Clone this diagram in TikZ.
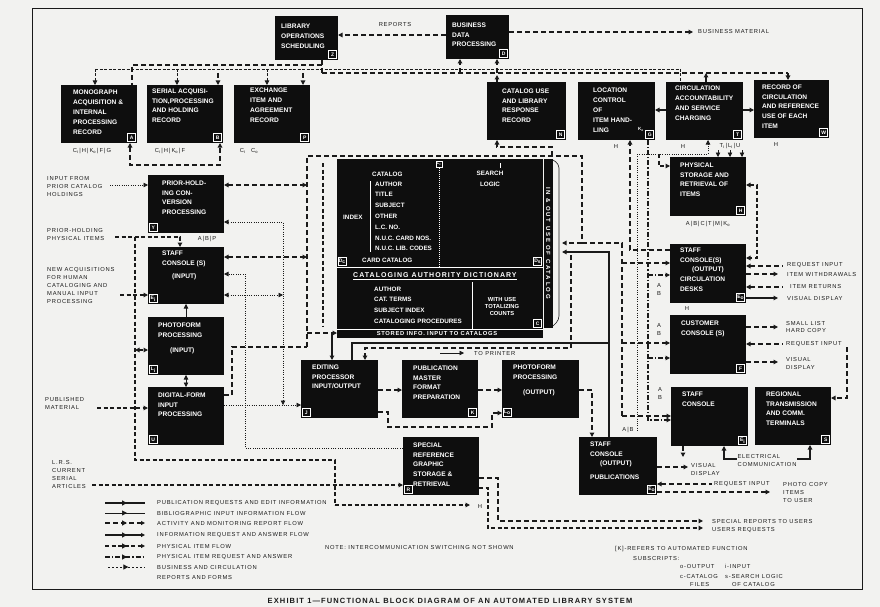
\documentclass[tikz,border=0pt]{standalone}
\usepackage{fontspec}
\setmainfont{Liberation Sans}
\newfontfamily\otfam[LetterSpace=13]{Liberation Sans}
\newfontfamily\capfam[LetterSpace=15]{Liberation Sans}
\newfontfamily\vfam[LetterSpace=30]{Liberation Sans}
\newfontfamily\cadfam[LetterSpace=15]{Liberation Sans}
\newfontfamily\sifam[LetterSpace=12]{Liberation Sans}
\usetikzlibrary{arrows.meta,calc,decorations.markings}
\definecolor{bg}{HTML}{F2F2F0}
\definecolor{ink}{HTML}{1A1A1A}
\definecolor{boxc}{HTML}{0E0E0E}
\newcommand\boxfont{\fontsize{6.6}{9.8}\selectfont\bfseries}
\newcommand\catfont{\fontsize{6.3}{10.8}\selectfont\bfseries}
\newcommand\outfont{\otfam\fontsize{5.8}{8}\selectfont}
\newcommand\labfont{\fontsize{5}{5}\selectfont\bfseries}
\newcommand\mkbox[8]{%
  \node[blk,minimum width={(#4-#2)*1pt},minimum height={(#5-#3)*1pt}] (#1) at (#2,#3) {};
  \node[btext] (#1t) at (#6,#7) {#8};}
\newcommand\lse[2]{\node[lab,anchor=south east] (#1l) at ($(#1.south east)+(-1,-1)$) {#2};}
\newcommand\lsw[2]{\node[lab,anchor=south west] (#1l) at ($(#1.south west)+(1,-1)$) {#2};}
\begin{document}
\begin{tikzpicture}[x=1pt,y=-1pt,
  >={Triangle[length=4.5pt,width=4.5pt]},
  blk/.style={rectangle,fill=boxc,inner sep=0pt,outer sep=0pt,anchor=north west},
  btext/.style={text=white,font=\boxfont,align=left,anchor=north west,inner sep=0pt},
  ctext/.style={text=white,font=\catfont,align=left,inner sep=0pt},
  lab/.style={rectangle,draw=white,fill=boxc,text=white,font=\labfont,inner sep=0.4pt,minimum width=8pt,minimum height=8pt,line width=0.6pt},
  otext/.style={text=ink,font=\outfont,align=left,inner sep=0pt},
  rep/.style={draw=ink,line width=1.5pt,dash pattern=on 5pt off 3pt},
  phys/.style={draw=ink,line width=1.2pt,dash pattern=on 4pt off 2.5pt},
  bib/.style={draw=ink,line width=0.8pt,dash pattern=on 1pt off 1.3pt},
  preq/.style={draw=ink,line width=1.2pt,dash pattern=on 5pt off 2pt on 1.2pt off 2pt},
  pub/.style={draw=ink,line width=1.5pt},
  bus/.style={draw=ink,line width=0.8pt,dash pattern=on 3pt off 1.5pt},
  thinl/.style={draw=ink,line width=0.6pt},
  midarrow/.style={postaction={decorate,decoration={markings,mark=at position 0.55 with {\arrow{Triangle[length=5pt,width=5pt]}}}}},
  openend/.style={-{Triangle[open,length=4pt,width=4pt]}},
]
\useasboundingbox (0,0) rectangle (880,607);
\fill[bg] (0,0) rectangle (880,607);
\draw[ink,line width=0.9pt] (32,8) rectangle (862,589);

% ---------------- boxes
\mkbox{LOS}{275}{16}{338}{60}{281}{24}{LIBRARY\\OPERATIONS\\SCHEDULING}\lse{LOS}{Z}
\mkbox{BDP}{446}{15}{509}{59}{452}{22.5}{BUSINESS\\DATA\\PROCESSING}\lse{BDP}{D}
\mkbox{A}{61}{85}{137}{143}{73}{90}{MONOGRAPH\\ACQUISITION \&\\INTERNAL\\PROCESSING\\RECORD}\lse{A}{A}
\mkbox{B}{147}{85}{223}{143}{152}{88.5}{SERIAL ACQUISI-\\TION,PROCESSING\\AND HOLDING\\RECORD}\lse{B}{B}
\mkbox{P}{234}{85}{310}{143}{250}{88}{EXCHANGE\\ITEM AND\\AGREEMENT\\RECORD}\lse{P}{P}
\mkbox{N}{487}{82}{566}{140}{502}{88.5}{CATALOG USE\\AND LIBRARY\\RESPONSE\\RECORD}\lse{N}{N}
\mkbox{G}{578}{82}{655}{140}{593}{88}{LOCATION\\CONTROL\\OF\\ITEM HAND-\\LING}\lse{G}{G}
\mkbox{T}{666}{82}{743}{140}{675}{86}{CIRCULATION\\ACCOUNTABILITY\\AND SERVICE\\CHARGING}\lse{T}{T}
\mkbox{W}{754}{80}{829}{138}{762}{84.5}{RECORD OF\\CIRCULATION\\AND REFERENCE\\USE OF EACH\\ITEM}\lse{W}{W}
\mkbox{Y}{148}{175}{224}{233}{162}{180.5}{PRIOR-HOLD-\\ING CON-\\VERSION\\PROCESSING}\lsw{Y}{Y}
\mkbox{Ei}{148}{247}{224}{304}{162}{250.5}{STAFF\\CONSOLE (S)\\[4pt]\hspace*{10pt}(INPUT)}\lsw{Ei}{E\textsubscript{i}}
\mkbox{Li}{148}{317}{224}{375}{158}{322.5}{PHOTOFORM\\PROCESSING\\[6pt]\hspace*{12pt}(INPUT)}\lsw{Li}{L\textsubscript{i}}
\mkbox{U}{148}{387}{224}{445}{158}{392.5}{DIGITAL-FORM\\INPUT\\PROCESSING}\lsw{U}{U}
\mkbox{J}{301}{360}{378}{418}{312}{364.5}{EDITING\\PROCESSOR\\INPUT/OUTPUT}\lsw{J}{J}
\mkbox{K}{402}{360}{478}{418}{413}{365.5}{PUBLICATION\\MASTER\\FORMAT\\PREPARATION}\lse{K}{K}
\mkbox{Lo}{502}{360}{579}{418}{513}{364.5}{PHOTOFORM\\PROCESSING\\[6pt]\hspace*{10pt}(OUTPUT)}\lsw{Lo}{L\textsubscript{o}}
\mkbox{R}{403}{437}{479}{495}{413}{442.5}{SPECIAL\\REFERENCE\\GRAPHIC\\STORAGE \&\\RETRIEVAL}\lsw{R}{R}
\mkbox{H}{670}{157}{746}{216}{680}{162.5}{PHYSICAL\\STORAGE AND\\RETRIEVAL OF\\ITEMS}\lse{H}{H}
\mkbox{Eo}{670}{244}{746}{303}{680}{247.5}{STAFF\\CONSOLE(S)\\\hspace*{12pt}(OUTPUT)\\CIRCULATION\\DESKS}\lse{Eo}{E\textsubscript{o}}
\mkbox{F}{670}{315}{746}{374}{681}{320.5}{CUSTOMER\\CONSOLE (S)}\lse{F}{F}
\mkbox{Es}{671}{387}{748}{446}{682}{391.5}{STAFF\\CONSOLE}\lse{Es}{E\textsubscript{i}}
\mkbox{S}{755}{387}{831}{445}{766}{391.5}{REGIONAL\\TRANSMISSION\\AND COMM.\\TERMINALS}\lse{S}{S}
\mkbox{Ep}{579}{437}{657}{495}{590}{441.5}{STAFF\\CONSOLE\\\hspace*{10pt}(OUTPUT)\\[4pt]PUBLICATIONS}\lse{Ep}{E\textsubscript{o}}
\node[text=white,font=\fontsize{4.5}{5}\selectfont\bfseries,inner sep=0pt] (Gko) at (641,129) {K\textsubscript{o}};

% ---------------- catalog block
\node[blk,minimum width=206pt,minimum height=179pt] (CAT) at (337,159) {};
\node[blk,minimum width=10pt,minimum height=169pt] (CST) at (543,159) {};
\draw[white,line width=0.8pt] (CAT.west |- 0,267) -- (CAT.east |- 0,267);
\draw[white,line width=0.8pt,dash pattern=on 1pt off 1pt] (439,168) -- (439,267);
\draw[white,line width=0.8pt] (472,282) -- (472,329);
\draw[white,line width=0.8pt] (CAT.west |- 0,329) -- (CAT.east |- 0,329);
\draw[bg,line width=0.5pt] (543.3,159) -- (543.3,328);
\node[ctext,anchor=west] (catl) at (372,174) {CATALOG};
\node[ctext,anchor=north west] (catitems) at (375,181.5) {AUTHOR\\TITLE\\SUBJECT\\OTHER\\L.C. NO.\\N.U.C. CARD NOS.\\N.U.C. LIB. CODES};
\node[ctext,anchor=west] (idx) at (343,217) {INDEX};
\draw[white,line width=0.6pt] (370,181) -- (370,252);
\node[ctext,anchor=west] (cc) at (362,260) {CARD CATALOG};
\node[ctext,align=center] (sl) at (490,179) {SEARCH\\LOGIC};
\draw[white,line width=0.7pt] (500,163) -- (500,168);
\node[lab,minimum width=6pt,minimum height=6pt,font=\fontsize{4}{4}\selectfont\bfseries] (Ccl) at (439,164) {C\textsubscript{c}};
\node[lab,anchor=south west] (Dcl) at (338,266) {D\textsubscript{c}};
\node[lab,anchor=south east] (Dsl) at (542,266) {D\textsubscript{s}};
\node[lab,anchor=south east] (Cl) at (542,328) {C};
\node[ctext,anchor=west,font=\cadfam\fontsize{7}{8}\selectfont\bfseries] (cad) at (353,276) {\underline{CATALOGING AUTHORITY DICTIONARY}};
\node[ctext,anchor=north west] (caditems) at (374,286.5) {AUTHOR\\CAT. TERMS\\SUBJECT INDEX\\CATALOGING PROCEDURES};
\node[ctext,align=center,font=\fontsize{5.8}{7}\selectfont\bfseries] (wuc) at (502,307) {WITH USE\\TOTALIZING\\COUNTS};
\node[ctext,font=\sifam\fontsize{5.8}{6}\selectfont\bfseries] (sii) at (437,333.5) {STORED INFO. INPUT TO CATALOGS};
\node[ctext,rotate=-90,font=\vfam\fontsize{6}{6}\selectfont\bfseries] (iou) at (548.3,243) {IN \& OUT USE OF CATALOG};
\draw[ink,line width=0.6pt,rounded corners=4pt] (553,160) -- (559,164) -- (559,320) -- (553,326);

% ---------------- top connectors
\draw[rep,->] (BDP.west |- 0,35) -- (LOS.east |- 0,35);
\node[otext] (rept) at (395,25) {REPORTS};
\draw[rep,->] (BDP.east |- 0,32) -- (693,32);
\node[otext,anchor=west] (bmt) at (698,32) {BUSINESS MATERIAL};
\draw[rep] (LOS.south -| 322,0) -- (322,73);
\draw[rep] (322,65) -- (132,65) -- (132,0 |- A.north);
\draw[bus] (95,69) -- (680,69) -- (680,0 |- T.north);
\draw[rep] (322,73) -- (788,73);
\draw[rep,->] (788,73) -- (788,0 |- W.north);
\draw[bus,->] (95,69) -- (95,0 |- A.north);
\draw[bus,->] (177,69) -- (177,0 |- B.north);
\draw[rep,->] (218,73) -- (218,0 |- B.north);
\draw[bus,->] (267,69) -- (267,0 |- P.north);
\draw[rep,->] (303,73) -- (303,0 |- P.north);
\draw[rep,->] (460,73) -- (460,0 |- BDP.south);
\draw[rep,->] (497,73) -- (497,0 |- BDP.south);
\draw[rep,->] (497,0 |- N.north) -- (497,75);
\draw[rep,->] (706,0 |- T.north) -- (706,73);
\draw[rep,<->] (130,0 |- A.south) -- (130,165) -- (220,165) -- (220,0 |- B.south);
\node[otext] (subA) at (92,151) {C\textsubscript{i}\,|\,H\,|\,K\textsubscript{o}\,|\,F\,|\,G};
\node[otext] (subB) at (170,151) {C\textsubscript{i}\,|\,H\,|\,K\textsubscript{o}\,|\,F};
\node[otext] (subP) at (249,151) {C\textsubscript{i}\quad C\textsubscript{o}};

% ---------------- left side
\node[otext,anchor=west] (ipc) at (47,187) {INPUT FROM\\PRIOR CATALOG\\HOLDINGS};
\draw[bib,->] (110,185) -- (Y.west |- 0,185);
\draw[rep,<->] (Y.east |- 0,185) -- (307,185);
\draw[bib,<->] (Y.east |- 0,222) -- (283,222) -- (283,405);
\draw[bib,->] (U.east |- 0,405) -- (J.west |- 0,405);
\node[otext,anchor=west] (php) at (47,235) {PRIOR-HOLDING\\PHYSICAL ITEMS};
\draw[phys,->] (115,237) -- (180,237) -- (180,0 |- Ei.north);
\node[otext] (subY) at (207,239) {A\,|\,B\,|\,P};
\draw[phys] (135,237) -- (135,460) -- (335,460) -- (335,505);
\draw[phys,->] (335,505) -- (470,505);
\node[otext] (Hx) at (480,506) {H};
\node[otext,anchor=west] (nac) at (47,286) {NEW ACQUISITIONS\\FOR HUMAN\\CATALOGING AND\\MANUAL INPUT\\PROCESSING};
\draw[phys,->] (120,295) -- (Ei.west |- 0,295);
\draw[phys,<->] (135,350) -- (Li.west |- 0,350);
\node[otext,anchor=west] (pm) at (45,403) {PUBLISHED\\MATERIAL};
\draw[phys,->] (97,408) -- (U.west |- 0,408);
\node[otext,anchor=west] (lrs) at (52,474) {L.R.S.\\CURRENT\\SERIAL\\ARTICLES};
\draw[phys,->] (92,485) -- (R.west |- 0,485);
\draw[rep,<->] (Ei.east |- 0,257) -- (307,257);
\draw[bib,->] (R.west |- 0,448) -- (245,448) -- (245,274) -- (Ei.east |- 0,274);
\draw[bib,<->] (Ei.east |- 0,295) -- (283,295);
\draw[thinl,->] (Li.north) -- (Ei.south);
\draw[thinl,<->] (U.north) -- (Li.south);
\draw[rep] (U.east |- 0,395) -- (232,395) -- (232,347) -- (307,347);
\draw[rep] (307,347) -- (307,156) -- (582,156) -- (582,243);
\draw[rep,->] (307,333) -- (CAT.west |- 0,333);
\draw[phys] (323,163) -- (323,327);
\draw[rep,->] (552,156) -- (552,147) -- (497,147) -- (497,0 |- N.south);

% ---------------- middle
\draw[pub,->] (332,333) -- (332,0 |- J.north);
\draw[pub] (352,0 |- J.north) -- (352,343) -- (609,343);
\draw[rep,->] (571,255) -- (571,348) -- (365,348) -- (365,0 |- J.north);
\draw[thinl,->] (440,353) -- (464,353);
\node[otext,anchor=west] (tp) at (474,353) {TO PRINTER};
\draw[rep,->] (J.east |- 0,390) -- (K.west |- 0,390);
\draw[rep,->] (K.east |- 0,390) -- (Lo.west |- 0,390);
\draw[rep,->] (J.east |- 0,412) -- (388,412) -- (388,427) -- (492,427) -- (492,413) -- (Lo.west |- 0,413);
\draw[rep,->] (Lo.east |- 0,390) -- (592,390) -- (592,0 |- Ep.north);
\draw[rep,->] (R.east |- 0,478) -- (498,478) -- (498,521) -- (703,521);
\draw[phys,->] (R.east |- 0,488) -- (488,488) -- (488,528) -- (703,528);
\node[otext,anchor=west] (srt) at (712,521) {SPECIAL REPORTS TO USERS};
\node[otext,anchor=west] (urt) at (712,530) {USERS REQUESTS};

% ---------------- right buses
\draw[rep,->] (582,243) -- (562,243);
\draw[rep] (582,243) -- (622,243) -- (622,416);
\draw[rep,->] (622,416) -- (Es.west |- 0,416);
\draw[rep,->] (622,263) -- (Eo.west |- 0,263);
\draw[rep,->] (622,343) -- (F.west |- 0,343);
\draw[pub,->] (609,0 |- Ep.north) -- (609,252) -- (562,252);
\draw[rep,->] (Eo.west |- 0,250) -- (630,250) -- (630,0 |- G.south);
\draw[preq,->] (648,0 |- G.south) -- (648,420) -- (Es.west |- 0,420);
\draw[preq,->] (648,275) -- (Eo.west |- 0,275);
\draw[preq,->] (648,358) -- (F.west |- 0,358);
\draw[bib] (637,154) -- (637,432);
\draw[bib,->] (637,154) -- (708,154) -- (708,0 |- T.south);
\draw[phys,->] (659,154) -- (659,166) -- (H.west |- 0,166);
\draw[pub,->] (T.west |- 0,110) -- (G.east |- 0,110);
\draw[pub,->] (T.east |- 0,110) -- (W.west |- 0,110);
\node[otext] (tlu) at (730,146) {T\textsubscript{i}\,|\,L\textsubscript{i}\,|\,U};
\draw[thinl,->] (718,150) -- (718,0 |- H.north);
\draw[thinl,->] (730,150) -- (730,0 |- H.north);
\draw[thinl,->] (742,150) -- (742,0 |- H.north);
\node[otext] (hG) at (616,147) {H};
\node[otext] (hT) at (683,147) {H};
\node[otext] (hW) at (776,145) {H};
\node[otext] (subH) at (708,224) {A\,|\,B\,|\,C\,|\,T\,|\,M\,|\,K\textsubscript{o}};
\node[otext,align=center] (abE) at (659,290) {A\\B};
\node[otext,align=center] (abF) at (659,330) {A\\B};
\node[otext,align=center] (abS) at (660,394) {A\\B};
\node[otext] (abP) at (628,430) {A\,|\,B};
\node[otext] (hEF) at (687,309) {H};
\draw[phys,<->] (H.east |- 0,185) -- (757,185) -- (757,258) -- (Eo.east |- 0,258);

% ---------------- right outputs
\draw[rep,<-] (Eo.east |- 0,266) -- (783,266);
\node[otext,anchor=west] (ri1) at (787,265) {REQUEST INPUT};
\draw[rep,->] (Eo.east |- 0,274) -- (778,274);
\node[otext,anchor=west] (iw) at (787,275) {ITEM WITHDRAWALS};
\draw[rep,<-] (Eo.east |- 0,287) -- (783,287);
\node[otext,anchor=west] (ir) at (790,287) {ITEM RETURNS};
\draw[pub,->] (Eo.east |- 0,298) -- (778,298);
\node[otext,anchor=west] (vd1) at (787,299) {VISUAL DISPLAY};
\draw[rep,->] (F.east |- 0,327) -- (778,327);
\node[otext,anchor=west] (sl2) at (786,327) {SMALL LIST\\HARD COPY};
\draw[rep,<-] (F.east |- 0,344) -- (783,344);
\node[otext,anchor=west] (ri2) at (786,344) {REQUEST INPUT};
\draw[rep,->] (847,347) -- (847,398) -- (S.east |- 0,398);
\draw[rep,->] (F.east |- 0,362) -- (778,362);
\node[otext,anchor=west] (vd2) at (786,363) {VISUAL\\DISPLAY};
\draw[rep,->] (683,0 |- Es.south) -- (683,457);
\draw[pub,<->] (724,0 |- Es.south) -- (724,459) -- (810,459) -- (810,0 |- S.south);
\node[otext,fill=bg,inner sep=1pt] (ec) at (767,460) {ELECTRICAL\\COMMUNICATION};
\draw[rep,->] (Ep.east |- 0,467) -- (688,467);
\node[otext,anchor=west] (vd3) at (691,469) {VISUAL\\DISPLAY};
\draw[rep,<-] (Ep.east |- 0,484) -- (712,484);
\node[otext,anchor=west] (ri3) at (714,484) {REQUEST INPUT};
\draw[rep,->] (Ep.east |- 0,492) -- (770,492);
\node[otext,anchor=west] (pci) at (783,492) {PHOTO COPY\\ITEMS\\TO USER};

% ---------------- legend
\draw[pub,line width=2pt,midarrow] (105,503) -- (145,503);
\node[otext,anchor=west] (lg1) at (157,503) {PUBLICATION REQUESTS AND EDIT INFORMATION};
\draw[thinl,midarrow] (105,513) -- (145,513);
\node[otext,anchor=west] (lg2) at (157,513) {BIBLIOGRAPHIC INPUT INFORMATION FLOW};
\draw[rep,midarrow,openend] (105,523) -- (145,523);
\node[otext,anchor=west] (lg3) at (157,523) {ACTIVITY AND MONITORING REPORT FLOW};
\draw[pub,midarrow,openend] (105,535) -- (145,535);
\node[otext,anchor=west] (lg4) at (157,535) {INFORMATION REQUEST AND ANSWER FLOW};
\draw[phys,midarrow,openend] (105,546) -- (145,546);
\node[otext,anchor=west] (lg5) at (157,546) {PHYSICAL ITEM FLOW};
\draw[preq,midarrow] (105,557) -- (145,557);
\node[otext,anchor=west] (lg6) at (157,557) {PHYSICAL ITEM REQUEST AND ANSWER};
\draw[bus,dash pattern=on 2pt off 2pt,midarrow] (108,567) -- (145,567);
\node[otext,anchor=west] (lg7) at (157,567) {BUSINESS AND CIRCULATION};
\node[otext,anchor=west] (lg8) at (157,577) {REPORTS AND FORMS};
\node[otext,anchor=west] (note) at (325,547) {NOTE: INTERCOMMUNICATION SWITCHING NOT SHOWN};
\node[otext,anchor=west] (fn1) at (615,549) {[K]-REFERS TO AUTOMATED FUNCTION};
\node[otext,anchor=west] (fn2) at (633,558) {SUBSCRIPTS:};
\node[otext,anchor=west] (fn3) at (680,566) {o-OUTPUT};
\node[otext,anchor=west] (fn4) at (725,566) {i-INPUT};
\node[otext,anchor=west] (fn5) at (680,576) {c-CATALOG};
\node[otext,anchor=west] (fn6) at (725,576) {s-SEARCH LOGIC};
\node[otext,anchor=west] (fn7) at (690,584) {FILES};
\node[otext,anchor=west] (fn8) at (732,584) {OF CATALOG};
\node[text=ink,font=\capfam\fontsize{7.5}{8}\selectfont\bfseries,inner sep=0pt] (cap) at (450,601) {EXHIBIT 1—FUNCTIONAL BLOCK DIAGRAM OF AN AUTOMATED LIBRARY SYSTEM};
\end{tikzpicture}
\end{document}
